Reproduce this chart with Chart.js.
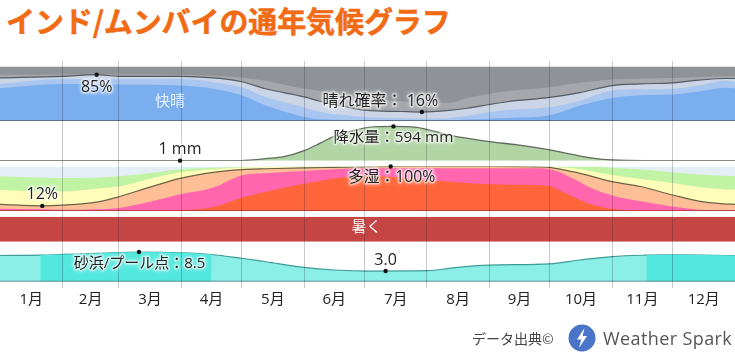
<!DOCTYPE html>
<html lang="ja">
<head>
<meta charset="utf-8">
<title>インド/ムンバイの通年気候グラフ</title>
<script src="https://cdn.jsdelivr.net/npm/chart.js@4"></script>
<style>
html,body{margin:0;padding:0;background:#fff;width:735px;height:352px;overflow:hidden}
#wrap{position:relative;width:735px;height:352px}
canvas{display:block;position:absolute;left:0;top:0}
h1{position:absolute;left:6px;top:1px;margin:0;font:700 29px/38px "Noto Sans CJK JP",sans-serif;color:#F06B14;white-space:nowrap;letter-spacing:-.1px;-webkit-text-stroke:.5px #F06B14}
#src{position:absolute;left:472px;top:327px;font:14px/22px "Noto Sans CJK JP",sans-serif;color:#444}
#brand{position:absolute;left:603px;top:326px;font:18px/24px "Open Sans",sans-serif;color:#555;white-space:nowrap;letter-spacing:.4px}
svg{position:absolute;left:568px;top:324px}
</style>
</head>
<body>
<div id="wrap">
<h1>インド/ムンバイの通年気候グラフ</h1>
<canvas id="c" width="735" height="352"></canvas>
<div id="src">データ出典©</div>
<svg width="28" height="28" viewBox="0 0 28 28"><circle cx="14" cy="14" r="13.5" fill="#4A74C8"/><path d="M16.5 4 L9 15.5 H13.2 L11 24 L19 12 H14.6 Z" fill="#fff"/></svg>
<div id="brand">Weather Spark</div>
</div>
<script>
const monthLabels = ['1月','2月','3月','4月','5月','6月','7月','8月','9月','10月','11月','12月'];
const monthStarts = [0,31,59,90,120,151,181,212,243,273,304,334,365];

const cloudDays   = [0,31,48,59,90,106,120,132,151,159,174,182,199,209,223,232,243,252,273,288,304,318,334,347,360,365];
const cloudClear  = [60,68,68,67,65,59,47,28,7,2.5,1.5,1.2,0.8,0.6,0.8,2,3.7,5,10,28,42,47,48.5,54,61,60];
const cloudMostly = [68,77,77,77,77,71,62,44,25,16,9,7,4.5,3.7,5,9,16,20,25,37,56,58,59,65,74,72];
const cloudSunny  = [79,82,85,82,82,79,72,59,44,36,24,19,17,16,19,23,30,35,43,52,65,68,70,75,78,78];
const cloudPartly = [85,85.5,86,85.5,85,83,80,74,59,55,45,40,36,33,33,42,50,55,62,70,76,78,79,81,82,82];

const rainDays = [0,59,89,120,124,132,141,151,159,165,174,183,195,207,216,225,243,257,273,288,298,304,320,365];
const rainMm   = [1,1,1,3,10,35,70,175,303,407,506,576,594,576,506,430,332,273,186,81,29,12,1,1];

const humidDays     = [0,21,31,48,59,74,90,106,120,132,151,166,182,194,209,232,243,268,273,278,285,293,304,318,334,347,359,365];
const humidVeryDry  = [78,75,74,75,78,85,94,97,98.5,99.5,100,100,100,100,100,100,100,100,100,100,100,99.8,97,93,87,82,79,78];
const humidDry      = [48,44,44,50,55,72,87,94,98,99,99.5,99.5,99.5,100,99.5,99.5,99.5,99.5,99.5,98,96,90,81,72,63,54,49,48];
const humidComfort  = [15,11.5,13,20,32,53,74,87,93,95,97,98,99,100,100,100,100,99,98,94,88,79,66,55,36,22,16,15];
const humidHumid    = [5,4,3,4,7,20,38,53,80,85,90,94,96,96,96,96,96,96,94,87,72,53,35,22,10,3,1.5,2];
const humidMuggy    = [1,1,1,1,1,1,2,9,30,43,61,73,80,77,71,63,60,58,56,46,31,16,5,1.5,1,1,1,1];

const tempDays  = [0,365];
const tempBand  = [1,1];

const beachDays  = [0,20,31,48,69,90,105,120,132,151,166,182,212,226,243,273,288,304,321,334,365];
const beachScore = [7.5,7.6,7.8,8.1,8.5,8.3,7.8,6.7,5.7,4.05,3.3,3.0,3.1,4.0,4.7,5.1,6.2,7.2,7.6,7.7,7.5];

const keyDays   = [48,209.5,89.4,195.4,21,194,69,191.5];
const keyValues = [85,16,1,594,11.5,100,8.5,3.0];

const FONT = '"Open Sans","Noto Sans CJK JP",sans-serif';
const pts = (d,v)=>d.map((x,i)=>({x,y:v[i]}));
function band(yAxisID,days,vals,color,order,line,lw){
  return {type:'line',yAxisID,xAxisID:'x',data:pts(days,vals),parsing:false,normalized:true,
    backgroundColor:color,fill:color?'start':false,order,pointRadius:0,cubicInterpolationMode:'monotone',
    borderColor:line||'rgba(0,0,0,0)',borderWidth:line?(lw||1.1):0};
}
const inRange=(a,b)=>(_,i)=>beachDays[i]>=a&&beachDays[i]<=b;
function dot(axis,i){
  return {type:'line',yAxisID:axis,xAxisID:'x',data:[{x:keyDays[i],y:keyValues[i]}],parsing:false,showLine:false,
    pointRadius:2.2,pointBackgroundColor:'#111',pointBorderWidth:0,order:0,clip:false};
}
const datasets=[
  band('cloud',[0,365],[100,100],'#8F9297',50),
  band('cloud',cloudDays,cloudPartly,'#A5A7AC',49),
  band('cloud',cloudDays,cloudSunny,'#CBD5E6',48,'#555b62',1.2),
  band('cloud',cloudDays,cloudMostly,'#A8C6EF',47),
  band('cloud',cloudDays,cloudClear,'#7BAEEE',46),
  band('cloud',[0,365],[0,0],null,45,'#4a5a6e',1.2),
  band('rain',rainDays,rainMm,'#B2D5A6',40,'#5f6a5c',1.3),
  band('humid',[0,365],[100,100],'#E4EEF5',39),
  band('humid',humidDays,humidVeryDry,'#C1F3A4',38),
  band('humid',humidDays,humidDry,'#FFFDB9',37),
  band('humid',humidDays,humidComfort,'#FFBF96',36,'#6b6246',1.2),
  band('humid',humidDays,humidHumid,'#FF66AE',35),
  band('humid',humidDays,humidMuggy,'#FF653A',34),
  band('humid',[0,365],[0,0],null,33,'#a8343a',1.4),
  band('temp',tempDays,tempBand,'#C54545',30),
  band('beach',beachDays,beachScore,'#8CEFE7',29,'#3d9c96',1.2),
  band('beach',beachDays.filter(inRange(20,105)),beachScore.filter(inRange(20,105)),'#52E8DE',28),
  band('beach',beachDays.filter(inRange(321,365)),beachScore.filter(inRange(321,365)),'#52E8DE',27),
  band('beach',[0,365],[0,0],null,26,'#3f7377',1.2),
  dot('cloud',0),dot('cloud',1),dot('rain',2),dot('rain',3),dot('humid',4),dot('humid',5),dot('beach',6),dot('beach',7)
];
const noteLabels=[
  {t:'85%',a:'cloud',d:48,v:85,dy:13,s:16},
  {t:'快晴',a:'cloud',d:84.4,v:34.6,c:'#EAF2FC',halo:false,s:15},
  {t:'晴れ確率： 16%',a:'cloud',d:209.5,v:16,dx:-41.5,dy:-11,s:16},
  {t:'1 mm',a:'rain',d:89.4,v:1,dy:-11,s:16},
  {t:'降水量：594 mm',a:'rain',d:195.4,v:594,dy:11.5,s:15.3},
  {t:'12%',a:'humid',d:21,v:11.5,dy:-11,s:16},
  {t:'多湿：100%',a:'humid',d:194,v:100,dx:1,dy:11,s:15.8},
  {t:'暑く',a:'temp',d:182,v:0.58,c:'#fff',halo:false,s:15},
  {t:'砂浜/プール点：8.5',a:'beach',d:69,v:8.5,dx:.5,dy:12,s:15},
  {t:'3.0',a:'beach',d:191.5,v:3,dy:-11,s:16}
];
const notePlugin={id:'notes',afterDraw(chart){
  const g=chart.ctx;g.save();g.textAlign='center';g.textBaseline='middle';
  for(const n of noteLabels){
    const x=chart.scales.x.getPixelForValue(n.d)+(n.dx||0);
    const y=chart.scales[n.a].getPixelForValue(n.v)+(n.dy||0);
    g.font=n.s+'px '+FONT;
    if(n.halo!==false){
      g.save();g.shadowColor='rgba(255,255,255,.95)';g.shadowBlur=4;g.fillStyle='rgba(255,255,255,.55)';
      g.lineJoin='round';g.strokeStyle='rgba(255,255,255,.45)';g.lineWidth=3;g.strokeText(n.t,x,y);g.fillText(n.t,x,y);g.restore();
    }
    g.fillStyle=n.c||'#222';g.fillText(n.t,x,y);
  }
  g.restore();
}};
const panel=(row,weight,min,max)=>({type:'linear',display:false,stack:'rows',stackWeight:weight,weight:row,position:'left',min,max});
const spacer=(row,w)=>panel(row,w,0,1);
new Chart(document.getElementById('c'),{
  data:{datasets},
  plugins:[notePlugin],
  options:{
    responsive:false,animation:false,events:[],
    layout:{autoPadding:false,padding:{top:61,left:0,right:0,bottom:0}},
    plugins:{legend:{display:false},tooltip:{enabled:false},title:{display:false}},
    scales:{
      x:{type:'linear',position:'bottom',min:0,max:365,
        afterBuildTicks(s){
          const c=monthLabels.map((_,i)=>(monthStarts[i]+monthStarts[i+1])/2);
          s.ticks=[...monthStarts.slice(1,12),...c].sort((a,b)=>a-b).map(value=>({value}));
        },
        afterFit(s){s.height=64;},
        grid:{z:1,drawTicks:false,lineWidth:1,color:c=>c.tick&&monthStarts.includes(c.tick.value)?'rgba(30,30,40,.24)':'rgba(0,0,0,0)'},
        border:{display:false},
        ticks:{autoSkip:false,maxRotation:0,padding:3,color:'#222',font:{family:FONT,size:15},
          callback(v){const i=monthLabels.findIndex((_,k)=>(monthStarts[k]+monthStarts[k+1])/2===v);return i<0?'':monthLabels[i];}}
      },
      sTop:spacer(9,5.6),
      cloud:panel(8,54.1,0,100),
      rain:panel(7,40,0,693),
      sA:spacer(6,5.8),
      humid:panel(5,44.5,0,100),
      sB:spacer(4,5.8),
      temp:panel(3,24.9,0,1),
      beach:panel(2,39.7,0,11.5),
      sEnd:spacer(1,6.6)
    }
  }
});
</script>
</body>
</html>
